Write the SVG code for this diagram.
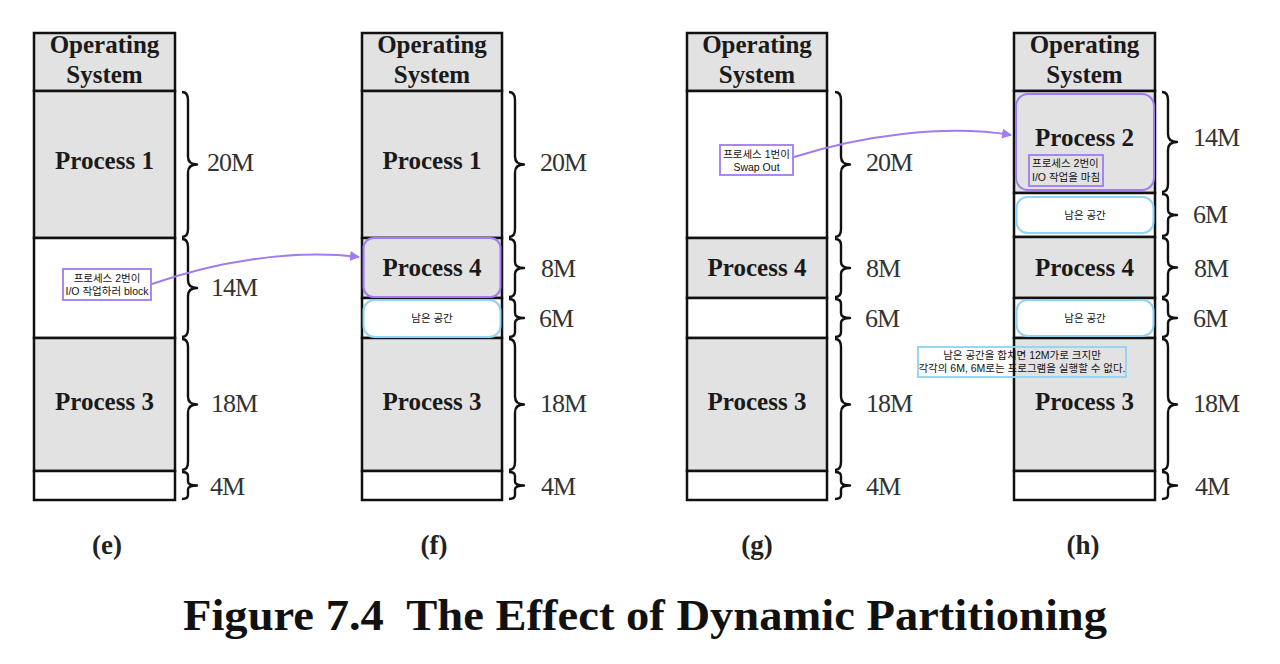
<svg xmlns="http://www.w3.org/2000/svg" width="1280" height="664" viewBox="0 0 1280 664">
<defs>
<style>
.os{fill:#e2e2e2;stroke:#111;stroke-width:2.5}
.pr{fill:#e2e2e2;stroke:#111;stroke-width:2.5}
.bl{fill:#ffffff;stroke:#111;stroke-width:2.5}
.pr2{fill:#e2e2e2;stroke:#a07cf0;stroke-width:2}
.free{fill:#ffffff;stroke:#92d2f2;stroke-width:2}
.ttl{font-family:"Liberation Serif","Times New Roman",serif;font-weight:bold;font-size:25px;fill:#1a1a1a;text-anchor:middle}
.sz{font-family:"Liberation Serif","Times New Roman",serif;font-size:26px;fill:#333;letter-spacing:-1px}
.cap{font-family:"Liberation Serif","Times New Roman",serif;font-weight:bold;font-size:27px;fill:#222;text-anchor:middle}
.kr{font-family:"Liberation Sans","Noto Sans CJK KR",sans-serif;font-size:10.5px;fill:#111;text-anchor:middle}
.krl{font-family:"Liberation Sans","Noto Sans CJK KR",sans-serif;font-size:10.5px;fill:#111}
.pbox{fill:none;stroke:#a07cf0;stroke-width:1.8}
.bbox{fill:none;stroke:#92d2f2;stroke-width:1.8}
.brace{fill:none;stroke:#111;stroke-width:2.4;stroke-linejoin:round}
.arr{fill:none;stroke:#a07cf0;stroke-width:2}
</style>
<marker id="ah" markerWidth="10" markerHeight="10" refX="9" refY="5" orient="auto" markerUnits="userSpaceOnUse">
<path d="M0,0 L10,5 L0,10 Z" fill="#a07cf0"/>
</marker>
</defs>
<rect width="1280" height="664" fill="#ffffff"/>

<!-- Column (e) -->
<g id="col-e">
<rect class="os" x="34" y="33" width="141" height="58"/>
<rect class="pr" x="34" y="91" width="141" height="147"/>
<rect class="bl" x="34" y="238" width="141" height="100"/>
<rect class="pr" x="34" y="338" width="141" height="133"/>
<rect class="bl" x="34" y="471" width="141" height="29"/>
<text class="ttl" x="104.5" y="53">Operating</text>
<text class="ttl" x="104.5" y="83">System</text>
<text class="ttl" x="104.5" y="169">Process 1</text>
<text class="ttl" x="104.5" y="410">Process 3</text>
</g>

<!-- Column (f) -->
<g id="col-f">
<rect class="os" x="362" y="33" width="140" height="58"/>
<rect class="pr" x="362" y="91" width="140" height="147"/>
<rect class="pr" x="362" y="238" width="140" height="60"/>
<rect class="bl" x="362" y="298" width="140" height="40"/>
<rect class="pr" x="362" y="338" width="140" height="133"/>
<rect class="bl" x="362" y="471" width="140" height="29"/>
<rect class="pr2" x="363.5" y="238" width="137" height="59" rx="10"/>
<rect class="free" x="363.5" y="300" width="137" height="37" rx="11"/>
<text class="ttl" x="432" y="53">Operating</text>
<text class="ttl" x="432" y="83">System</text>
<text class="ttl" x="432" y="169">Process 1</text>
<text class="ttl" x="432" y="276">Process 4</text>
<text class="kr" x="432" y="322">남은 공간</text>
<text class="ttl" x="432" y="410">Process 3</text>
</g>

<!-- Column (g) -->
<g id="col-g">
<rect class="os" x="687" y="33" width="140" height="58"/>
<rect class="bl" x="687" y="91" width="140" height="147"/>
<rect class="pr" x="687" y="238" width="140" height="60"/>
<rect class="bl" x="687" y="298" width="140" height="40"/>
<rect class="pr" x="687" y="338" width="140" height="133"/>
<rect class="bl" x="687" y="471" width="140" height="29"/>
<text class="ttl" x="757" y="53">Operating</text>
<text class="ttl" x="757" y="83">System</text>
<text class="ttl" x="757" y="276">Process 4</text>
<text class="ttl" x="757" y="410">Process 3</text>
</g>

<!-- Column (h) -->
<g id="col-h">
<rect class="os" x="1014" y="33" width="141" height="58"/>
<rect class="pr" x="1014" y="91" width="141" height="102"/>
<rect class="bl" x="1014" y="193" width="141" height="44"/>
<rect class="pr" x="1014" y="237" width="141" height="61"/>
<rect class="bl" x="1014" y="298" width="141" height="40"/>
<rect class="pr" x="1014" y="338" width="141" height="133"/>
<rect class="bl" x="1014" y="471" width="141" height="29"/>
<rect class="pr2" x="1016" y="94" width="138" height="96" rx="12"/>
<rect class="free" x="1016.5" y="197" width="137" height="36" rx="11"/>
<rect class="free" x="1016.5" y="300" width="137" height="36" rx="11"/>
<text class="ttl" x="1084.5" y="53">Operating</text>
<text class="ttl" x="1084.5" y="83">System</text>
<text class="ttl" x="1084.5" y="146">Process 2</text>
<text class="kr" x="1085" y="219">남은 공간</text>
<text class="ttl" x="1084.5" y="276">Process 4</text>
<text class="kr" x="1085" y="322">남은 공간</text>
<text class="ttl" x="1084.5" y="410">Process 3</text>
</g>

<!-- Braces -->
<g id="braces">
<path class="brace" d="M182,92 Q188,92 188,100 L188,156.5 Q188,164.5 197,164.5 Q188,164.5 188,172.5 L188,229 Q188,237 182,237"/>
<path class="brace" d="M182,239 Q188,239 188,247 L188,280 Q188,288 197,288 Q188,288 188,296 L188,329 Q188,337 182,337"/>
<path class="brace" d="M182,339 Q188,339 188,347 L188,396.5 Q188,404.5 197,404.5 Q188,404.5 188,412.5 L188,462 Q188,470 182,470"/>
<path class="brace" d="M182,472 Q188,472 188,476 L188,481.5 Q188,485.5 197,485.5 Q188,485.5 188,489.5 L188,495 Q188,499 182,499"/>

<path class="brace" d="M509,92 Q515,92 515,100 L515,156.5 Q515,164.5 524,164.5 Q515,164.5 515,172.5 L515,229 Q515,237 509,237"/>
<path class="brace" d="M509,239 Q515,239 515,245 L515,262 Q515,268 524,268 Q515,268 515,274 L515,291 Q515,297 509,297"/>
<path class="brace" d="M509,299 Q515,299 515,304 L515,313 Q515,318 524,318 Q515,318 515,323 L515,332 Q515,337 509,337"/>
<path class="brace" d="M509,339 Q515,339 515,347 L515,396.5 Q515,404.5 524,404.5 Q515,404.5 515,412.5 L515,462 Q515,470 509,470"/>
<path class="brace" d="M509,472 Q515,472 515,476 L515,481.5 Q515,485.5 524,485.5 Q515,485.5 515,489.5 L515,495 Q515,499 509,499"/>

<path class="brace" d="M835,92 Q841,92 841,100 L841,156.5 Q841,164.5 850,164.5 Q841,164.5 841,172.5 L841,229 Q841,237 835,237"/>
<path class="brace" d="M835,239 Q841,239 841,245 L841,262 Q841,268 850,268 Q841,268 841,274 L841,291 Q841,297 835,297"/>
<path class="brace" d="M835,299 Q841,299 841,304 L841,313 Q841,318 850,318 Q841,318 841,323 L841,332 Q841,337 835,337"/>
<path class="brace" d="M835,339 Q841,339 841,347 L841,396.5 Q841,404.5 850,404.5 Q841,404.5 841,412.5 L841,462 Q841,470 835,470"/>
<path class="brace" d="M835,472 Q841,472 841,476 L841,481.5 Q841,485.5 850,485.5 Q841,485.5 841,489.5 L841,495 Q841,499 835,499"/>

<path class="brace" d="M1162,92 Q1168,92 1168,100 L1168,134 Q1168,142 1177,142 Q1168,142 1168,150 L1168,184 Q1168,192 1162,192"/>
<path class="brace" d="M1162,194 Q1168,194 1168,199 L1168,210 Q1168,215 1177,215 Q1168,215 1168,220 L1168,231 Q1168,236 1162,236"/>
<path class="brace" d="M1162,238 Q1168,238 1168,244 L1168,261.5 Q1168,267.5 1177,267.5 Q1168,267.5 1168,273.5 L1168,291 Q1168,297 1162,297"/>
<path class="brace" d="M1162,299 Q1168,299 1168,304 L1168,313 Q1168,318 1177,318 Q1168,318 1168,323 L1168,332 Q1168,337 1162,337"/>
<path class="brace" d="M1162,339 Q1168,339 1168,347 L1168,396.5 Q1168,404.5 1177,404.5 Q1168,404.5 1168,412.5 L1168,462 Q1168,470 1162,470"/>
<path class="brace" d="M1162,472 Q1168,472 1168,476 L1168,481.5 Q1168,485.5 1177,485.5 Q1168,485.5 1168,489.5 L1168,495 Q1168,499 1162,499"/>
</g>

<!-- Size labels -->
<g id="sizes">
<text class="sz" x="207" y="171">20M</text>
<text class="sz" x="211" y="296">14M</text>
<text class="sz" x="211" y="412">18M</text>
<text class="sz" x="210" y="495">4M</text>

<text class="sz" x="540" y="171">20M</text>
<text class="sz" x="541" y="277">8M</text>
<text class="sz" x="539" y="327">6M</text>
<text class="sz" x="540" y="412">18M</text>
<text class="sz" x="541" y="495">4M</text>

<text class="sz" x="866" y="171">20M</text>
<text class="sz" x="866" y="277">8M</text>
<text class="sz" x="865" y="327">6M</text>
<text class="sz" x="866" y="412">18M</text>
<text class="sz" x="866" y="495">4M</text>

<text class="sz" x="1193" y="146">14M</text>
<text class="sz" x="1193" y="223">6M</text>
<text class="sz" x="1194" y="277">8M</text>
<text class="sz" x="1193" y="327">6M</text>
<text class="sz" x="1193" y="412">18M</text>
<text class="sz" x="1195" y="495">4M</text>
</g>

<!-- Annotations -->
<g id="note-e">
<rect class="pbox" x="63" y="269" width="88" height="31"/>
<text class="kr" x="107" y="282">프로세스 2번이</text>
<text class="kr" x="107" y="295">I/O 작업하러 block</text>
</g>
<g id="note-g">
<rect class="pbox" x="720" y="145" width="73" height="30"/>
<text class="kr" x="756.5" y="158">프로세스 1번이</text>
<text class="kr" x="756.5" y="171">Swap Out</text>
</g>
<g id="note-h">
<rect class="pbox" x="1029" y="155" width="74" height="31"/>
<text class="krl" x="1032" y="167">프로세스 2번이</text>
<text class="krl" x="1032" y="181">I/O 작업을 마침</text>
</g>
<g id="note-frag">
<rect class="bbox" x="918" y="347" width="208" height="30"/>
<text class="kr" x="1022" y="359">남은 공간을 합치면 12M가로 크지만</text>
<text class="kr" x="1022" y="372">각각의 6M, 6M로는 프로그램을 실행할 수 없다.</text>
</g>

<!-- Connectors -->
<g id="connectors">
<path class="arr" d="M152,284 C215,262 290,249 359,257" marker-end="url(#ah)"/>
<path class="arr" d="M794,157 C860,136 945,124 1011,135" marker-end="url(#ah)"/>
</g>

<!-- Captions -->
<g id="captions">
<text class="cap" x="107" y="554">(e)</text>
<text class="cap" x="434" y="554">(f)</text>
<text class="cap" x="757" y="554">(g)</text>
<text class="cap" x="1083" y="554">(h)</text>
<text xml:space="preserve" x="183" y="630" textLength="924" lengthAdjust="spacingAndGlyphs" style="font-family:'Liberation Serif','Times New Roman',serif;font-weight:bold;font-size:45px;fill:#111">Figure 7.4  The Effect of Dynamic Partitioning</text>
</g>
</svg>
